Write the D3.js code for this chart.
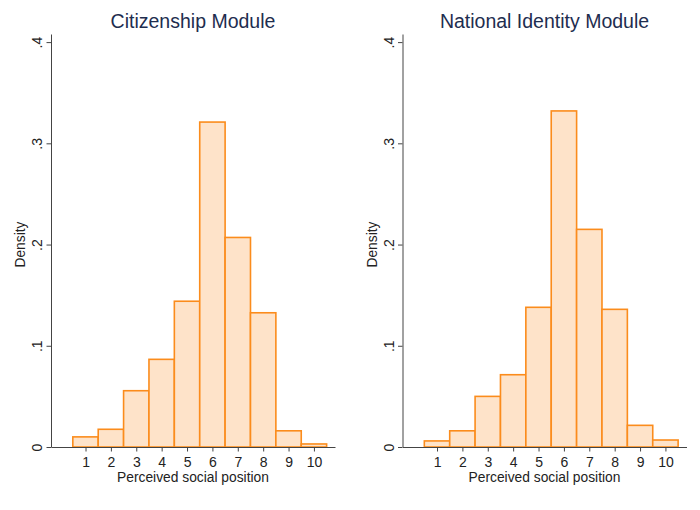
<!DOCTYPE html>
<html>
<head>
<meta charset="utf-8">
<script src="https://cdn.jsdelivr.net/npm/d3@7"></script>
<style>
  body { margin: 0; background: #fff; }
  svg { display: block; font-family: "Liberation Sans", Arial, sans-serif; }
</style>
</head>
<body>
<svg id="chart"></svg>
<script>
const categories = [1, 2, 3, 4, 5, 6, 7, 8, 9, 10];
const citizenship = [0.010, 0.0175, 0.0556, 0.0866, 0.144, 0.321, 0.207, 0.1326, 0.016, 0.003];
const nationalIdentity = [0.006, 0.016, 0.050, 0.0714, 0.138, 0.332, 0.215, 0.136, 0.0214, 0.0069];
const yTicks = [0, 0.1, 0.2, 0.3, 0.4];
const yTickLabels = ['0', '.1', '.2', '.3', '.4'];
const titles = ['Citizenship Module', 'National Identity Module'];

let width = 700;
let height = 510;

let svg = d3.select('#chart')
    .attr('width', width)
    .attr('height', height);

const panels = [
    { left: 51, title: titles[0], values: citizenship },
    { left: 402.5, title: titles[1], values: nationalIdentity }
];

const plotWidth = 284;

const yScale = d3.scaleLinear()
    .domain([0, 0.408])
    .range([447, 34]);

const drawPanel = (panel) => {
    let xScale = d3.scaleLinear()
        .domain([-0.36, 10.83])
        .range([panel.left, panel.left + plotWidth]);

    let g = svg.append('g');

    // bars
    g.selectAll('rect')
        .data(panel.values)
        .enter()
        .append('rect')
        .attr('x', (d, i) => xScale(categories[i] - 0.5))
        .attr('width', (d, i) => xScale(categories[i] + 0.5) - xScale(categories[i] - 0.5))
        .attr('y', d => yScale(d))
        .attr('height', d => yScale(0) - yScale(d))
        .attr('fill', '#fee3c9')
        .attr('stroke', '#fb8c1c')
        .attr('stroke-width', 1.6);

    // x axis
    let xAxis = d3.axisBottom(xScale)
        .tickValues(categories)
        .tickSize(4.5)
        .tickSizeOuter(0)
        .tickPadding(6);

    let gx = g.append('g')
        .attr('transform', 'translate(0,' + yScale(0) + ')')
        .call(xAxis)
        .attr('font-family', null);
    gx.selectAll('text')
        .style('font-size', '14px')
        .attr('fill', '#222');

    // y axis
    let yAxis = d3.axisLeft(yScale)
        .tickValues(yTicks)
        .tickSize(4.5)
        .tickSizeOuter(0)
        .tickFormat((d, i) => yTickLabels[i]);

    let gy = g.append('g')
        .attr('transform', 'translate(' + panel.left + ',0)')
        .call(yAxis)
        .attr('font-family', null);
    gy.selectAll('text')
        .attr('transform', 'rotate(-90)')
        .attr('x', 0)
        .attr('y', -9)
        .attr('dy', null)
        .attr('text-anchor', 'middle')
        .style('font-size', '14px')
        .attr('fill', '#222');

    svg.selectAll('.domain, .tick line').attr('stroke', '#444');

    // titles and axis labels
    g.append('text')
        .attr('x', panel.left + plotWidth / 2)
        .attr('y', 28)
        .attr('text-anchor', 'middle')
        .style('font-size', '19.5px')
        .attr('fill', '#1e2d4f')
        .text(panel.title);

    g.append('text')
        .attr('x', panel.left + plotWidth / 2)
        .attr('y', 482)
        .attr('text-anchor', 'middle')
        .style('font-size', '13.8px')
        .attr('fill', '#222')
        .text('Perceived social position');

    g.append('text')
        .attr('transform', 'translate(' + (panel.left - 26) + ',' + yScale(0.2) + ') rotate(-90)')
        .attr('text-anchor', 'middle')
        .style('font-size', '13.8px')
        .attr('fill', '#222')
        .text('Density');
}

panels.forEach(drawPanel);
</script>
</body>
</html>
